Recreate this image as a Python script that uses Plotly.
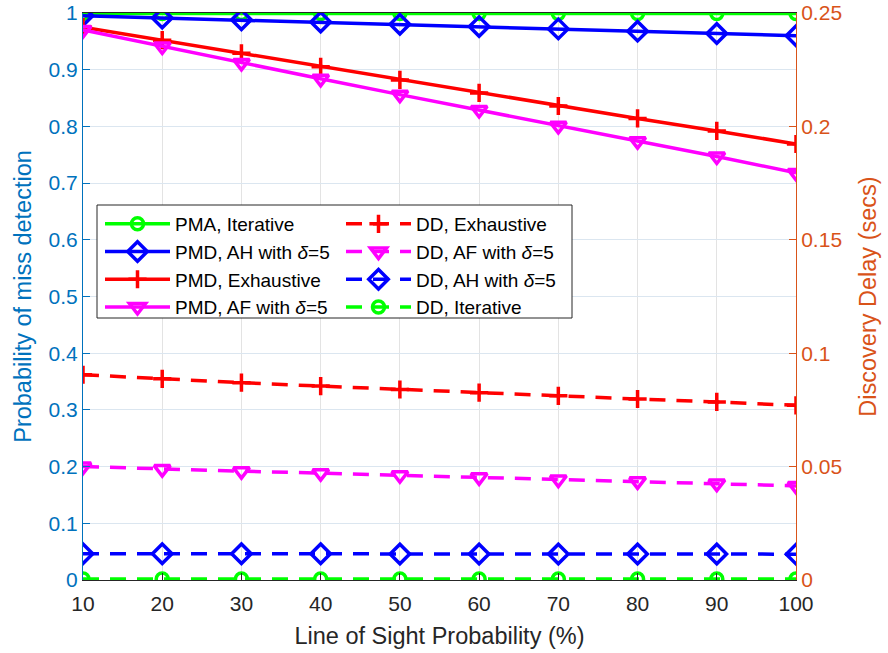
import plotly.graph_objects as go

los = [10, 20, 30, 40, 50, 60, 70, 80, 90, 100]

# Probability of miss detection (left axis)
pma_iterative = [0.999, 0.999, 0.999, 0.999, 0.999, 0.999, 0.999, 0.999, 0.999, 0.999]
pmd_ah = [0.995, 0.991, 0.988, 0.984, 0.980, 0.976, 0.972, 0.968, 0.964, 0.960]
pmd_exhaustive = [0.975, 0.952, 0.929, 0.905, 0.882, 0.859, 0.836, 0.814, 0.792, 0.769]
pmd_af = [0.970, 0.941, 0.912, 0.884, 0.856, 0.829, 0.801, 0.774, 0.747, 0.718]

# Discovery delay in seconds (right axis)
dd_exhaustive = [0.0905, 0.0887, 0.0870, 0.0855, 0.0840, 0.0826, 0.0812, 0.0798, 0.0785, 0.0770]
dd_af = [0.0500, 0.0489, 0.0480, 0.0471, 0.0462, 0.0453, 0.0443, 0.0435, 0.0425, 0.0415]
dd_ah = [0.0116, 0.0116, 0.0116, 0.0116, 0.0115, 0.0115, 0.0115, 0.0115, 0.0115, 0.0114]
dd_iterative = [0.0004, 0.0004, 0.0004, 0.0004, 0.0004, 0.0004, 0.0004, 0.0004, 0.0004, 0.0004]

left_ticks = [0, 0.1, 0.2, 0.3, 0.4, 0.5, 0.6, 0.7, 0.8, 0.9, 1]
left_tick_text = ["0", "0.1", "0.2", "0.3", "0.4", "0.5", "0.6", "0.7", "0.8", "0.9", "1"]
right_ticks = [0, 0.05, 0.1, 0.15, 0.2, 0.25]
right_tick_text = ["0", "0.05", "0.1", "0.15", "0.2", "0.25"]

GREEN = "#00ff00"
BLUE = "#0000ff"
RED = "#ff0000"
MAGENTA = "#ff00ff"
LBLUE = "#0072bd"
ORANGE = "#d95319"
DARK = "#262626"
FONT = "Liberation Sans, Arial, Helvetica, sans-serif"
DASH = "16px,11px"

series = [
    ("PMA, Iterative", pma_iterative, GREEN, "circle-open", 12, "solid", "y", "legend"),
    ("PMD, AH with <i>δ</i>=5", pmd_ah, BLUE, "diamond-open", 15, "solid", "y", "legend"),
    ("PMD, Exhaustive", pmd_exhaustive, RED, "cross-thin-open", 13, "solid", "y", "legend"),
    ("PMD, AF with <i>δ</i>=5", pmd_af, MAGENTA, "triangle-down-open", 14, "solid", "y", "legend"),
    ("DD, Exhaustive", dd_exhaustive, RED, "cross-thin-open", 13, DASH, "y2", "legend2"),
    ("DD, AF with <i>δ</i>=5", dd_af, MAGENTA, "triangle-down-open", 14, DASH, "y2", "legend2"),
    ("DD, AH with <i>δ</i>=5", dd_ah, BLUE, "diamond-open", 15, DASH, "y2", "legend2"),
    ("DD, Iterative", dd_iterative, GREEN, "circle-open", 12, DASH, "y2", "legend2"),
]

fig = go.Figure()
for name, vals, col, sym, sz, dash, yax, leg in series:
    fig.add_trace(go.Scatter(
        x=los, y=vals, name=name, mode="lines+markers", yaxis=yax, legend=leg,
        line=dict(color=col, width=3.5, dash=dash),
        marker=dict(symbol=sym, size=sz, color=col, line=dict(width=3.5, color=col)),
    ))

W, H = 888, 653
ml, mr, mt, mb = 83, 92, 13, 73
pw, ph = W - ml - mr, H - mt - mb

def px(x):
    return (x - ml) / pw

def py(y):
    return (H - mb - y) / ph

fig.update_layout(
    width=W, height=H,
    margin=dict(l=ml, r=mr, t=mt, b=mb, autoexpand=False),
    paper_bgcolor="white", plot_bgcolor="white",
    font=dict(family=FONT, size=21, color=DARK),
    xaxis=dict(
        range=[10, 100], tickvals=los, ticktext=[str(v) for v in los],
        showgrid=True, gridcolor="#e3e3e3", gridwidth=1,
        showline=True, linecolor=DARK, linewidth=1, mirror=True,
        ticks="inside", ticklen=7, tickcolor=DARK, ticklabelstandoff=5,
        tickfont=dict(size=21, color=DARK), zeroline=False, automargin=False,
        title=dict(text="Line of Sight Probability (%)", font=dict(size=23.5, color=DARK), standoff=13),
    ),
    yaxis=dict(
        range=[0, 1], tickvals=left_ticks, ticktext=left_tick_text,
        showgrid=True, gridcolor="#dbe6f0", gridwidth=1,
        showline=True, linecolor=LBLUE, linewidth=1,
        ticks="inside", ticklen=7, tickcolor=LBLUE,
        tickfont=dict(size=21, color=LBLUE), zeroline=False, automargin=False,
        title=dict(text="Probability of miss detection", font=dict(size=23.5, color=LBLUE), standoff=10),
    ),
    yaxis2=dict(
        range=[0, 0.25], tickvals=right_ticks, ticktext=right_tick_text,
        overlaying="y", side="right", showgrid=False,
        showline=True, linecolor=ORANGE, linewidth=1,
        ticks="inside", ticklen=7, tickcolor=ORANGE,
        tickfont=dict(size=21, color=ORANGE), zeroline=False, automargin=False,
        title=dict(text="Discovery Delay (secs)", font=dict(size=23.5, color=ORANGE), standoff=18),
    ),
    legend=dict(
        x=px(100), y=py(205), xanchor="left", yanchor="top",
        bgcolor="rgba(0,0,0,0)", borderwidth=0,
        font=dict(size=19, color="black"), itemwidth=65, tracegroupgap=0,
    ),
    legend2=dict(
        x=px(341), y=py(205), xanchor="left", yanchor="top",
        bgcolor="rgba(0,0,0,0)", borderwidth=0,
        font=dict(size=19, color="black"), itemwidth=65, tracegroupgap=0,
    ),
    shapes=[dict(
        type="rect", xref="paper", yref="paper",
        x0=px(97), x1=px(572), y0=py(318), y1=py(205),
        line=dict(color=DARK, width=1), fillcolor="white", layer="above",
    )],
    showlegend=True,
)

fig.write_html("out.html")
